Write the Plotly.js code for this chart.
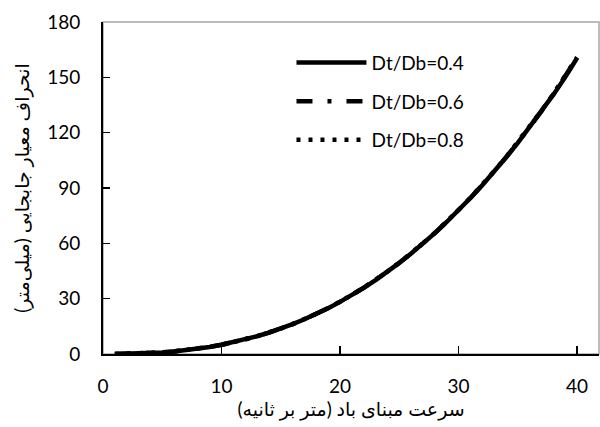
<!DOCTYPE html>
<html>
<head>
<meta charset="utf-8">
<script src="https://cdn.plot.ly/plotly-3.0.1.min.js"></script>
<style>html,body{margin:0;padding:0;background:#fff;}#chart{width:600px;height:427px;}</style>
</head>
<body>
<div id="chart"></div>
<script>
// Wind base speed (m/s)
var windSpeed = [1,2,3,4,5,6,7,8,9,10,11,12,13,14,15,16,17,18,19,20,21,22,23,24,25,26,27,28,29,30,31,32,33,34,35,36,37,38,39,40];
// Standard deviation of displacement (mm)
var ratio04 = [0.02,0.09,0.25,0.5,0.88,1.39,2.05,2.86,3.84,5.0,6.34,7.88,9.63,11.59,13.77,16.18,18.83,21.72,24.86,28.26,31.93,35.87,40.08,44.58,49.38,54.46,59.85,65.55,71.56,77.89,84.54,91.52,98.84,106.5,114.5,122.9,131.6,140.6,150.1,160.5];
var ratio06 = [0.02,0.09,0.25,0.5,0.88,1.39,2.05,2.86,3.85,5.0,6.35,7.89,9.64,11.6,13.79,16.2,18.85,21.75,24.89,28.3,31.97,35.91,40.13,44.63,49.43,54.52,59.92,65.62,71.64,77.98,84.63,91.62,98.95,106.6,114.6,123.0,131.7,140.8,150.3,160.7];
var ratio08 = [0.02,0.09,0.25,0.51,0.89,1.4,2.06,2.87,3.86,5.02,6.36,7.91,9.66,11.62,13.81,16.23,18.88,21.78,24.93,28.34,32.01,35.96,40.18,44.69,49.49,54.59,59.99,65.7,71.72,78.07,84.73,91.72,99.06,106.7,114.8,123.2,131.9,141.0,150.5,160.9];
var seriesNames = ["Dt/Db=0.4","Dt/Db=0.6","Dt/Db=0.8"];
var xTicks = [0,10,20,30,40];
var yTicks = [0,30,60,90,120,150,180];

var FONT = "Lato, 'DejaVu Sans', sans-serif";
var traces = [
  {x: windSpeed, y: ratio04, name: seriesNames[0], legendgroup: "a", mode: "lines",
   line: {color: "#000", width: 4.5, dash: "solid"}},
  {x: windSpeed, y: ratio06, name: seriesNames[1], legendgroup: "b", mode: "lines",
   line: {color: "#000", width: 4.5, dash: "16px,15px,4px,15px"}},
  {x: windSpeed, y: ratio08, name: seriesNames[2], legendgroup: "c", mode: "lines",
   line: {color: "#000", width: 4.5, dash: "4px,8px"}}
];
var layout = {
  width: 600, height: 427,
  margin: {l: 103, r: 1, t: 22, b: 73},
  paper_bgcolor: "#fff", plot_bgcolor: "#fff",
  font: {family: FONT, color: "#000"},
  showlegend: true,
  legend: {x: 0.38, y: 0.935, xanchor: "left", yanchor: "top", bgcolor: "rgba(0,0,0,0)",
           font: {size: 19, family: FONT, color: "#000"}, itemwidth: 70,
           traceorder: "grouped", tracegroupgap: 11},
  xaxis: {range: [0, 41.85], tickvals: xTicks, ticks: "inside", ticklen: 8, tickwidth: 1.5,
          tickcolor: "#000", showline: true, linecolor: "#000", linewidth: 2,
          showgrid: false, zeroline: false, tickfont: {size: 19, family: FONT},
          ticklabelstandoff: 14,
          title: {text: "سرعت مبنای باد (متر بر ثانیه)", font: {size: 19, family: FONT}, standoff: 6}},
  yaxis: {range: [0, 180], tickvals: yTicks, ticks: "inside", ticklen: 7, tickwidth: 1.5,
          tickcolor: "#000", showline: true, linecolor: "#000", linewidth: 2,
          showgrid: false, zeroline: false, tickfont: {size: 19, family: FONT},
          ticklabelstandoff: 17,
          title: {text: "انحراف معیار جابجایی (میلی‌متر)", font: {size: 19, family: FONT}, standoff: 12}},
  shapes: [{type: "rect", xref: "paper", yref: "paper", x0: 0, x1: 1, y0: 0, y1: 1,
            line: {color: "#a6a6a6", width: 1.5}, layer: "below"}]
};
Plotly.newPlot("chart", traces, layout, {displayModeBar: false, staticPlot: true});
</script>
</body>
</html>
